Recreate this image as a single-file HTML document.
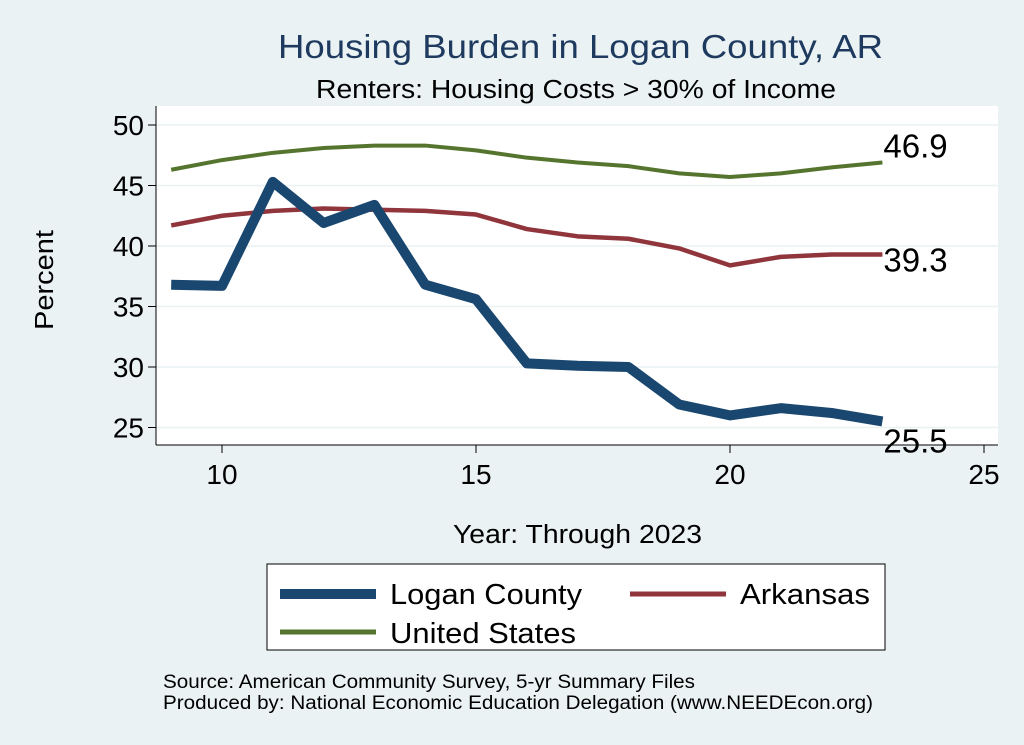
<!DOCTYPE html>
<html><head><meta charset="utf-8"><style>
body{margin:0;background:#eaf2f3;font-family:"Liberation Sans",sans-serif}
svg{display:block}
</style></head><body>
<svg id="c" width="1024" height="745" font-family="Liberation Sans, sans-serif">
<rect width="1024" height="745" fill="#eaf2f3"/>
<text x="278" y="58" font-size="33" textLength="605" lengthAdjust="spacingAndGlyphs" fill="#1e3a5f">Housing Burden in Logan County, AR</text>
<text x="316" y="98" font-size="25.5" textLength="520" lengthAdjust="spacingAndGlyphs" fill="#000">Renters: Housing Costs &gt; 30% of Income</text>
<rect x="156" y="106" width="842" height="339" fill="#fff"/>
<g id="grid"></g><g id="axes"></g><g id="series"></g>
<text x="453" y="543" font-size="25.5" textLength="249" lengthAdjust="spacingAndGlyphs">Year: Through 2023</text>
<text transform="translate(53,330) rotate(-90)" font-size="25.5" textLength="100" lengthAdjust="spacingAndGlyphs">Percent</text>
<g>
<rect x="267" y="564" width="618" height="86" fill="#fff" stroke="#000" stroke-width="1"/>
<line x1="280" y1="594" x2="376" y2="594" stroke="#1a476f" stroke-width="10"/>
<text x="390" y="604" font-size="29" textLength="192" lengthAdjust="spacingAndGlyphs">Logan County</text>
<line x1="630" y1="594" x2="726" y2="594" stroke="#90353b" stroke-width="5"/>
<text x="740" y="604" font-size="29" textLength="130" lengthAdjust="spacingAndGlyphs">Arkansas</text>
<line x1="280" y1="632" x2="376" y2="632" stroke="#55752f" stroke-width="5"/>
<text x="390" y="643" font-size="29" textLength="186" lengthAdjust="spacingAndGlyphs">United States</text>
</g>
<text x="163" y="688" font-size="19" textLength="532" lengthAdjust="spacingAndGlyphs">Source: American Community Survey, 5-yr Summary Files</text>
<text x="163" y="709" font-size="19" textLength="710" lengthAdjust="spacingAndGlyphs">Produced by: National Economic Education Delegation (www.NEEDEcon.org)</text>
</svg>
<script>
const years=[9,10,11,12,13,14,15,16,17,18,19,20,21,22,23];
const logan=[36.8,36.7,45.3,41.9,43.4,36.8,35.6,30.3,30.1,30.0,26.9,26.0,26.6,26.2,25.5];
const arkansas=[41.7,42.5,42.9,43.1,43.0,42.9,42.6,41.4,40.8,40.6,39.8,38.4,39.1,39.3,39.3];
const us=[46.3,47.1,47.7,48.1,48.3,48.3,47.9,47.3,46.9,46.6,46.0,45.7,46.0,46.5,46.9];
const xTicks=[10,15,20,25];
const yTicks=[25,30,35,40,45,50];
const NS="http://www.w3.org/2000/svg";
const X=v=>222+(v-10)*50.8;
const Y=v=>125+(50-v)*12.1;
function mk(t,a,p){const e=document.createElementNS(NS,t);for(const k in a)e.setAttribute(k,a[k]);p.appendChild(e);return e;}
const grid=document.getElementById('grid'),axes=document.getElementById('axes'),ser=document.getElementById('series');
yTicks.forEach(v=>{
 const g=mk('line',{x1:156,x2:998,y1:Y(v),y2:Y(v),stroke:'#eaf2f3','stroke-width':1.5},grid);
 
 
 mk('line',{x1:148,x2:156,y1:Y(v),y2:Y(v),stroke:'#000'},axes);
 const t=mk('text',{x:144,y:Y(v)+10,'text-anchor':'end','font-size':28},axes);t.textContent=v;
 
 
});
mk('line',{x1:156,x2:156,y1:106,y2:445,stroke:'#000'},axes);
mk('line',{x1:156,x2:998,y1:445,y2:445,stroke:'#000'},axes);
xTicks.forEach(v=>{
 mk('line',{x1:X(v),x2:X(v),y1:445,y2:453,stroke:'#000'},axes);
 const t=mk('text',{x:X(v),y:484,'text-anchor':'middle','font-size':28},axes);t.textContent=v;
 
 
});
function line(d,col,w,name,dy){
 const p=mk('polyline',{points:years.map((y,i)=>X(y)+','+Y(d[i])).join(' '),fill:'none',stroke:col,'stroke-width':w,'stroke-linejoin':'round'},ser);
 
 
 const n=d.length-1;
 const t=mk('text',{x:X(years[n])+1,y:Y(d[n])+dy,'font-size':33},ser);t.textContent=d[n].toFixed(1);
 
 
}
line(us,'#55752f',4,'line-united-states',-5);
line(arkansas,'#90353b',4.5,'line-arkansas',17);
line(logan,'#1a476f',10,'line-logan-county',31);
</script>
</body></html>
